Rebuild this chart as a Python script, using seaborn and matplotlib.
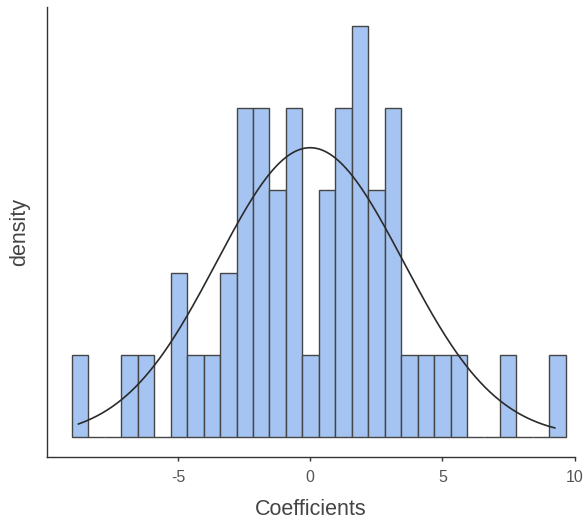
import numpy as np
import pandas as pd
import matplotlib
matplotlib.use('Agg')
import matplotlib.pyplot as plt
import seaborn as sns

# Histogram counts per bin (30 bins)
bin_counts = [1, 0, 0, 1, 1, 0, 2, 1, 1, 2,
              4, 4, 3, 4, 1, 3, 4, 5, 3, 4,
              1, 1, 1, 1, 0, 0, 1, 0, 0, 1]
bin_low = -9.01
bin_high = 9.67

# Normal curve overlay
norm_mean = 0.0
norm_sd = 3.53
curve_low = -8.77
curve_high = 9.26

x_ticks = [-5, 0, 5, 10]
x_label = 'Coefficients'
y_label = 'density'

sns.set_theme(style='white')
plt.rcParams['font.family'] = ['Liberation Sans', 'DejaVu Sans']

n_bins = len(bin_counts)
edges = np.linspace(bin_low, bin_high, n_bins + 1)
centers = (edges[:-1] + edges[1:]) / 2
df = pd.DataFrame({'coef': centers, 'n': bin_counts})

fig = plt.figure(figsize=(5.86, 5.27), dpi=100)
ax = fig.add_axes([0.0807, 0.1323, 0.8998, 0.8544])

sns.histplot(data=df, x='coef', weights='n', bins=n_bins,
             binrange=(bin_low, bin_high), stat='density',
             color='#a6c4f1', alpha=1.0, edgecolor='#454545', linewidth=1.0,
             ax=ax)

xs = np.linspace(curve_low, curve_high, 300)
curve = pd.DataFrame({
    'x': xs,
    'y': np.exp(-0.5 * ((xs - norm_mean) / norm_sd) ** 2) / (norm_sd * np.sqrt(2 * np.pi)),
})
sns.lineplot(data=curve, x='x', y='y', color='#2b2b2b', linewidth=1.2, ax=ax)

bw = edges[1] - edges[0]
scale = sum(bin_counts) * bw
ax.set_xlim(-9.94, 10.0)
ax.set_ylim(-0.243 / scale, 5.228 / scale)

ax.set_xticks(x_ticks)
ax.set_xticklabels([str(t) for t in x_ticks])
ax.set_yticks([])
ax.tick_params(axis='x', direction='out', length=3, width=1.0, color='#333333',
               labelsize=11.5, labelcolor='#555555', pad=6, bottom=True)

for side in ['top', 'right']:
    ax.spines[side].set_visible(False)
for side in ['left', 'bottom']:
    ax.spines[side].set_color('#333333')
    ax.spines[side].set_linewidth(1.0)

ax.set_xlabel(x_label, fontsize=15.5, color='#444444', labelpad=10)
ax.set_ylabel(y_label, fontsize=15.5, color='#444444', labelpad=12)

fig.savefig('out.png', dpi=100)
